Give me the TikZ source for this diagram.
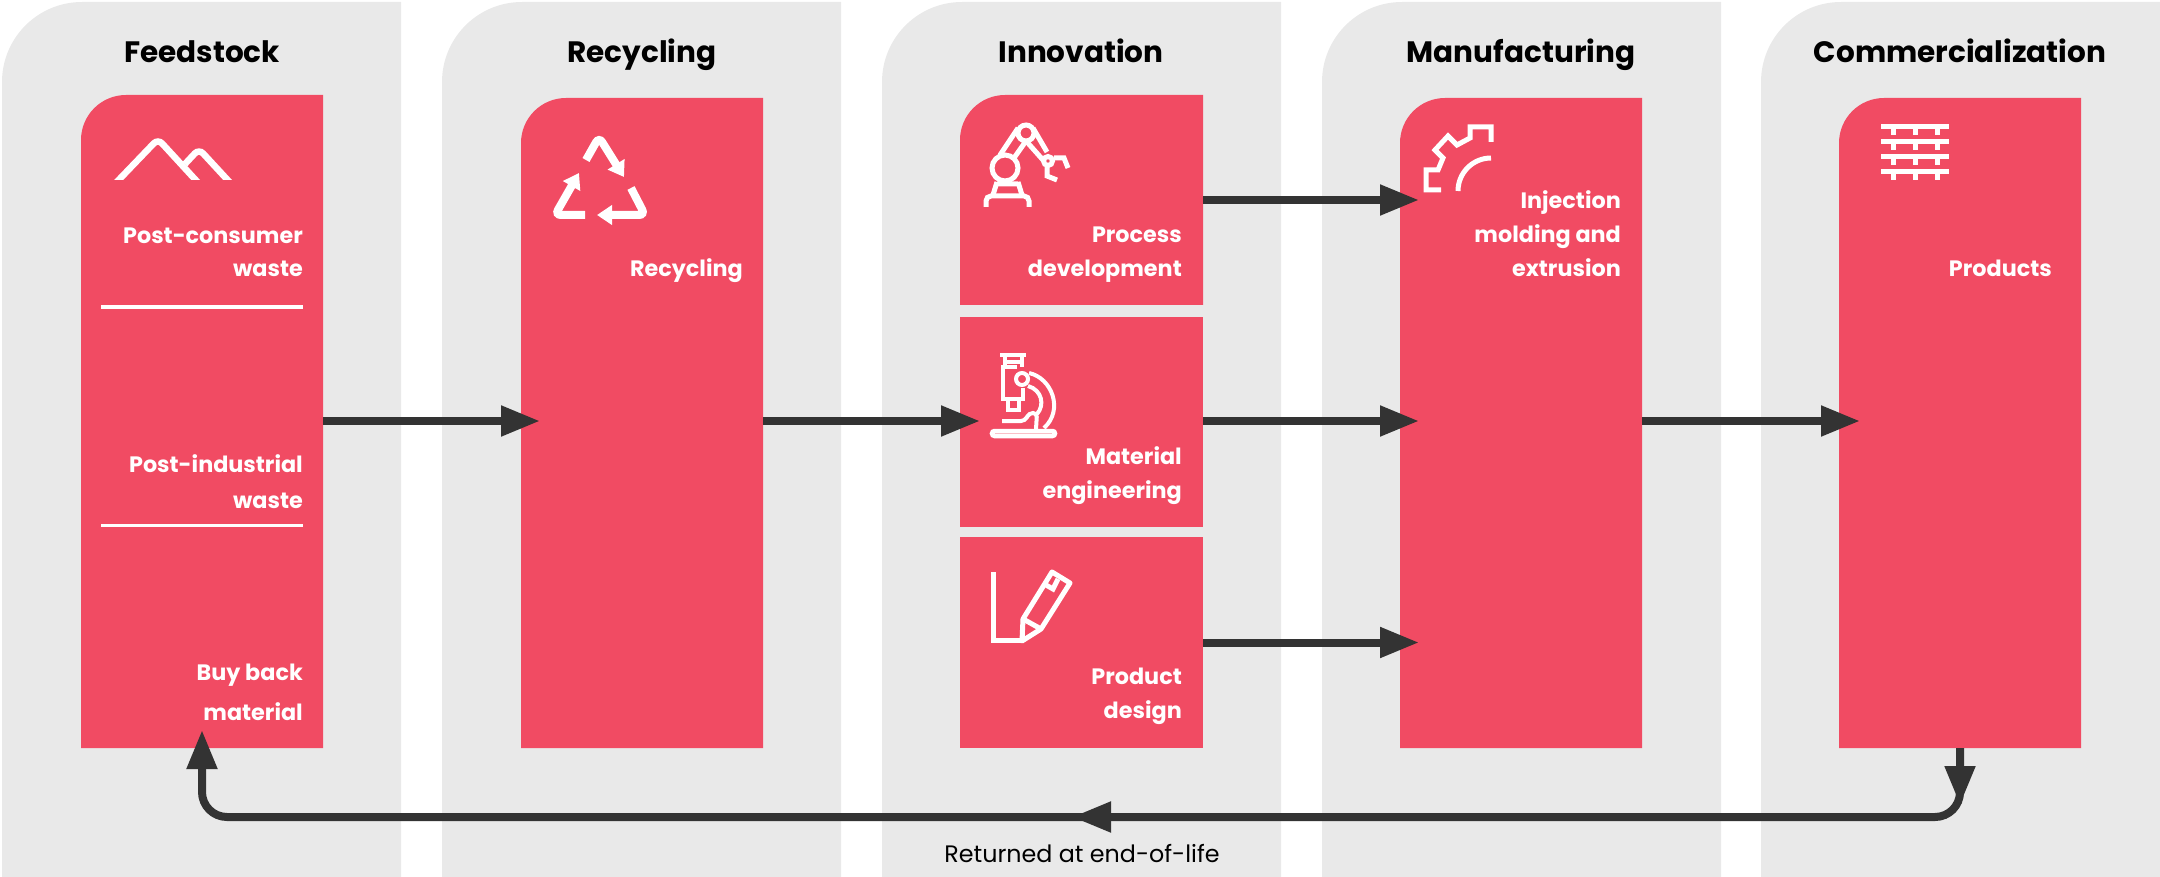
\documentclass[tikz,border=0pt]{standalone}
\usepackage{fontspec}
\setmainfont{Poppins}
\newfontfamily\headfont{Poppins}[UprightFont=* Bold]
\usetikzlibrary{arrows.meta}
\definecolor{paneltint}{HTML}{E9E9E9}
\definecolor{cardred}{HTML}{F14B63}
\definecolor{flowdark}{HTML}{333333}
\begin{document}
\begin{tikzpicture}[x=1pt, y=-1pt,
	cornerfill/.style n args={2}{path picture={\fill[#1] (path picture bounding box.south west) [rounded corners=#2] -- (path picture bounding box.north west) [sharp corners] -- (path picture bounding box.north east) -- (path picture bounding box.south east) -- cycle;}},
	panel/.style={rectangle, minimum width=399pt, minimum height=875pt, inner sep=0mm, outer sep=0mm, anchor=north west, cornerfill={paneltint}{80pt}},
	card/.style={rectangle, minimum width=242pt, inner sep=0mm, outer sep=0mm, anchor=north west, cornerfill={cardred}{45pt}},
	plaincard/.style={rectangle, fill=cardred, minimum width=243pt, inner sep=0mm, outer sep=0mm, anchor=north west},
	heading/.style={anchor=base, font=\headfont\fontsize{29.5}{36}\selectfont},
	caption/.style={anchor=base east, align=right, inner sep=0mm, text=white, font=\headfont\fontsize{22.3}{34}\selectfont},
	flow/.style={draw=flowdark, line width=8pt, -{Triangle[length=39pt,width=29pt]}},
	rule/.style={draw=white, line width=3pt},
	icon/.style={draw=white, line width=5pt},
	recycleicon/.style={icon, line width=8pt, rounded corners=6pt, -{Triangle[length=15pt,width=19pt]}}]
	\useasboundingbox (0,0) rectangle (2160,877);
	\node[panel] at (2,2) (panelfeed) {};
	\node[panel] at (442,2) (panelrecycle) {};
	\node[panel] at (882,2) (panelinnov) {};
	\node[panel] at (1322,2) (panelmanuf) {};
	\node[panel] at (1761,2) (panelcomm) {};
	\node[heading] at (202,63) (headfeed) {Feedstock};
	\node[heading] at (642,63) (headrecycle) {Recycling};
	\node[heading] at (1081,63) (headinnov) {Innovation};
	\node[heading] at (1521,63) (headmanuf) {Manufacturing};
	\node[heading] at (1960,63) (headcomm) {Commercialization};
	\node[card, minimum height=653pt] at (81,95) (feedstock) {};
	\node[card, minimum height=650pt] at (521,98) (recycling) {};
	\node[card, minimum width=243pt, minimum height=210pt] at (960,95) (process) {};
	\node[plaincard, minimum height=210pt] at (960,317) (material) {};
	\node[plaincard, minimum height=211pt] at (960,537) (design) {};
	\node[card, minimum height=650pt] at (1400,98) (molding) {};
	\node[card, minimum height=650pt] at (1839,98) (products) {};
	% connectors
	\coordinate (midline) at (0,421);
	\draw[flow, shorten >=-19pt] (feedstock.east |- midline) -- (recycling.west |- midline);
	\draw[flow, shorten >=-20pt] (recycling.east |- midline) -- (material.west |- midline);
	\draw[flow, shorten >=-19pt] (process.east) -- (process.east -| molding.west);
	\draw[flow, shorten >=-19pt] (material.east |- midline) -- (molding.west |- midline);
	\draw[flow, shorten >=-19pt] (design.east) -- (design.east -| molding.west);
	\draw[flow, shorten >=-21pt] (molding.east |- midline) -- (products.west |- midline);
	\coordinate (returnright) at (products.south |- 0,817);
	\coordinate (returnleft) at (feedstock.south |- 0,817);
	\coordinate (returnstart) at (1900,817);
	\coordinate (returnmid) at (1072,817);
	\coordinate (droptip) at (products.south |- 0,805);
	\draw[flow, rounded corners=25pt, shorten >=-18pt] (products.south) -- (returnright) -- (returnleft) -- (feedstock.south);
	\draw[flow] (products.south) -- (droptip);
	\draw[flow] (returnstart) -- (returnmid);
	\node[anchor=base, font=\fontsize{23.8}{28}\selectfont] at (1082,862) (returned) {Returned at end-of-life};
	% rules in the feedstock card
	\draw[rule] (101,307) -- (303,307);
	\draw[rule] (101,525) -- (303,525);
	% mountains
	\begin{scope}
		\clip (100,125) rectangle (240,180);
		\draw[icon, line width=6.5pt, rounded corners=6pt] (111,188) -- (158,139) -- (203,188);
		\draw[icon, line width=6.5pt, rounded corners=6pt] (185,164) -- (199,149) -- (235,188);
	\end{scope}
	% recycle arrows
	\draw[recycleicon] (586,160) -- (599,137) -- (624,177);
	\draw[recycleicon] (631,188) -- (645,215) -- (597,215);
	\draw[recycleicon] (585,215) -- (555,215) -- (579,173);
	% robot arm
	\draw[icon] (1005,168) circle (13pt);
	\draw[icon] (1026,133) circle (8pt);
	\draw[icon] (1048,161) circle (4.5pt);
	\draw[icon] (1000,155) -- (1018,128) (1014,158) -- (1026,141);
	\draw[icon] (1033,128) -- (1047,152) (1027,142) -- (1043,160);
	\draw[icon] (1054,158) -- (1064,158) -- (1068,168) (1047,167) -- (1047,176) -- (1057,180);
	\draw[icon] (997,182) -- (993,195) (1018,182) -- (1022,195) (997,184) -- (1018,184);
	\draw[icon, rounded corners=5pt] (986,207) -- (986,196) -- (1029,196) -- (1029,207);
	% microscope
	\draw[icon, line width=4pt] (1000,355) -- (1026,355);
	\draw[icon, line width=4pt] (1005,357) -- (1005,367) (1022,357) -- (1022,367) (1005,362) -- (1022,362);
	\draw[icon, line width=4pt] (1017,367) -- (1003,367) -- (1003,399) -- (1023,399) -- (1023,388);
	\draw[icon, line width=4pt] (1008,400) -- (1008,410) -- (1019,410) -- (1019,400);
	\draw[icon, line width=4pt] (1022,379) circle (6pt);
	\draw[icon, line width=4pt] (1029,373) .. controls (1052,378) and (1064,410) .. (1044,428);
	\draw[icon, line width=4pt] (1028,386) .. controls (1042,390) and (1045,405) .. (1037,414);
	\draw[icon, line width=4pt, rounded corners=4pt] (1002,421) -- (1025,421) -- (1029,413) -- (1037,413) -- (1036,429);
	\draw[icon, line width=4.5pt, rounded corners=2.5pt] (992,431) rectangle (1055,436);
	% pencil
	\draw[icon] (993,572) -- (993,640) -- (1022,640);
	\draw[icon, line join=round] (1022,641) -- (1023,619) -- (1052,572) -- (1070,583) -- (1041,629) -- cycle;
	\draw[icon] (1023,619) -- (1041,629);
	\draw[icon] (1058,579) -- (1053,589) -- (1046,585);
	% gear
	\draw[icon] (1491,142) -- (1491,127) -- (1470,127) -- (1470,138) -- (1457,145) -- (1448,136) -- (1435,150) -- (1443,158) -- (1438,170) -- (1426,170) -- (1426,190) -- (1441,190);
	\draw[icon] (1458,191) arc (180:90:33pt);
	% bricks
	\draw[icon] (1881,127) -- (1949,127) (1881,142) -- (1949,142) (1881,157) -- (1949,157) (1881,172) -- (1949,172);
	\draw[icon] (1893,127) -- (1893,135) (1915,127) -- (1915,135) (1937,127) -- (1937,135);
	\draw[icon] (1893,142) -- (1893,150) (1915,142) -- (1915,150) (1937,142) -- (1937,150);
	\draw[icon] (1893,157) -- (1893,165) (1915,157) -- (1915,165) (1937,157) -- (1937,165);
	\draw[icon] (1893,172) -- (1893,180) (1915,172) -- (1915,180) (1937,172) -- (1937,180);
	% captions
	\node[caption] at (303,277) (postconsumer) {Post-consumer\\[-1pt]waste};
	\node[caption] at (303,508) (postindustrial) {Post-industrial\\[2pt]waste};
	\node[caption] at (303,720) (buyback) {Buy back\\[6pt]material};
	\node[caption] at (743,277) (recyclingtext) {Recycling};
	\node[caption] at (1182,277) (processtext) {Process\\development};
	\node[caption] at (1182,498) (materialtext) {Material\\engineering};
	\node[caption] at (1182,718) (designtext) {Product\\design};
	\node[caption] at (1621,277) (moldingtext) {Injection\\molding and\\extrusion};
	\node[caption] at (2052,277) (productstext) {Products};
\end{tikzpicture}
\end{document}
